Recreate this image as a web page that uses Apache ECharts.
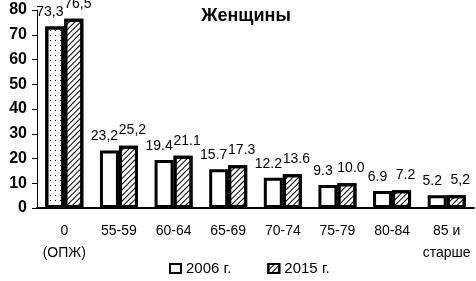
<!DOCTYPE html>
<html>
<head>
<meta charset="utf-8">
<script src="https://cdn.jsdelivr.net/npm/echarts@6/dist/echarts.min.js"></script>
<style>
  html, body { margin: 0; padding: 0; background: #fff; }
  #chart { width: 476px; height: 281px; }
</style>
</head>
<body>
<div id="chart"></div>
<script>
const categories = ['0\n(ОПЖ)', '55-59', '60-64', '65-69', '70-74', '75-79', '80-84', '85 и\nстарше']
const values2006 = [73.3, 23.2, 19.4, 15.7, 12.2, 9.3, 6.9, 5.2]
const values2015 = [76.5, 25.2, 21.1, 17.3, 13.6, 10.0, 7.2, 5.2]
const labels2006 = ['73,3', '23,2', '19.4', '15.7', '12.2', '9.3', '6.9', '5.2']
const labels2015 = ['76,5', '25,2', '21.1', '17.3', '13.6', '10.0', '7.2', '5,2']
const yTicks = [0, 10, 20, 30, 40, 50, 60, 70, 80]

const font = 'Liberation Sans'
const chart = echarts.init(document.getElementById('chart'))

const hatch = {
  symbol: 'rect',
  color: '#000',
  dashArrayX: [1, 0],
  dashArrayY: [1, 3],
  rotation: -Math.PI / 4,
}
const dots = {
  symbol: 'rect',
  color: '#000',
  dashArrayX: [1, 4],
  dashArrayY: [1, 4],
}

chart.setOption({
  animation: false,
  title: {
    text: 'Женщины',
    left: 241,
    textAlign: 'center',
    top: 2,
    textStyle: { fontFamily: font, fontSize: 18, fontWeight: 'bold', color: '#000' },
  },
  legend: {
    bottom: 0,
    left: 164,
    icon: 'rect',
    itemWidth: 11,
    itemHeight: 9,
    itemGap: 36,
    textStyle: { fontFamily: font, fontSize: 15, color: '#000' },
    data: ['2006 г.', '2015 г.'],
  },
  grid: { left: 37, right: 2, top: 10, bottom: 73 },
  xAxis: {
    type: 'category',
    data: categories,
    axisLine: { lineStyle: { color: '#000', width: 2 } },
    axisTick: { length: 5, lineStyle: { color: '#000' } },
    axisLabel: { fontFamily: font, fontSize: 14, color: '#000', margin: 12, lineHeight: 22, interval: 0 },
  },
  yAxis: {
    type: 'value',
    min: yTicks[0],
    max: yTicks[yTicks.length - 1],
    interval: 10,
    splitLine: { show: false },
    axisLine: { show: true, lineStyle: { color: '#000' } },
    axisTick: { show: true, length: 5, lineStyle: { color: '#000' } },
    axisLabel: { fontFamily: font, fontSize: 16, fontWeight: 'bold', color: '#000', margin: 10 },
  },
  series: [
    {
      name: '2006 г.',
      type: 'bar',
      barWidth: 19,
      barGap: '0%',
      data: values2006.map((v, i) => (i === 0 ? { value: v, itemStyle: { decal: dots } } : v)),
      itemStyle: { color: '#fff', borderColor: '#000', borderWidth: 3 },
      label: {
        show: true,
        position: 'top',
        offset: [-5, -2],
        fontFamily: font,
        fontSize: 14,
        color: '#000',
        formatter: (p) => labels2006[p.dataIndex],
      },
    },
    {
      name: '2015 г.',
      type: 'bar',
      barWidth: 19,
      data: values2015,
      itemStyle: { color: '#fff', borderColor: '#000', borderWidth: 3, decal: hatch },
      label: {
        show: true,
        position: 'top',
        offset: [4, -3],
        fontFamily: font,
        fontSize: 14,
        color: '#000',
        formatter: (p) => labels2015[p.dataIndex],
      },
    },
  ],
})
</script>
</body>
</html>
